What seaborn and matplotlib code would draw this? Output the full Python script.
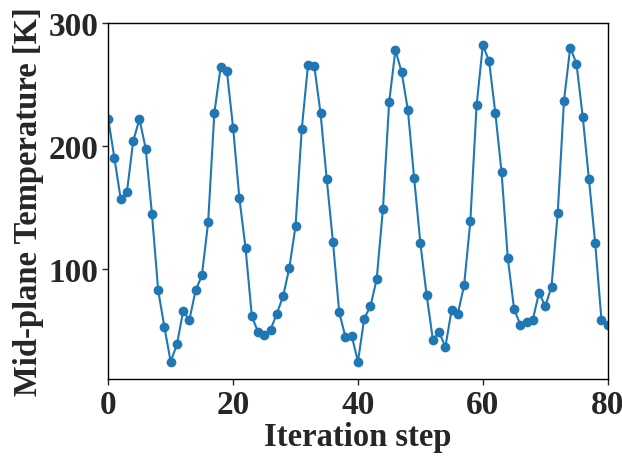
import pandas as pd
import matplotlib
matplotlib.use("Agg")
import matplotlib.pyplot as plt
import seaborn as sns

steps = list(range(81))
temperature = [222, 190, 157, 163, 204, 222, 198, 145, 83, 53,
               25, 39, 66, 59, 83, 95, 138, 227, 264, 261,
               215, 158, 117, 62, 49, 47, 51, 64, 78, 101,
               135, 214, 266, 265, 227, 173, 122, 65, 45, 46,
               25, 60, 70, 92, 149, 236, 278, 260, 229, 174,
               121, 79, 43, 49, 37, 67, 64, 87, 139, 233,
               282, 269, 227, 179, 109, 68, 55, 57, 59, 81,
               70, 86, 146, 237, 280, 267, 224, 173, 121, 59,
               55]

df = pd.DataFrame({'step': steps, 'temp': temperature})

sns.set_style('ticks')
plt.rcParams['font.family'] = ['Liberation Serif', 'DejaVu Serif']
plt.rcParams['font.weight'] = 'bold'

fig = plt.figure(figsize=(6.22, 4.60), dpi=100)
ax = fig.add_axes([0.174, 0.174, 0.803, 0.774])
sns.lineplot(data=df, x='step', y='temp', marker='o', markersize=7,
             markeredgewidth=0, color='#1f77b4', linewidth=1.5, ax=ax)
ax.set_xlim(0, 80)
ax.set_ylim(11, 300)
ax.set_xticks([0, 20, 40, 60, 80])
ax.set_yticks([100, 200, 300])
ax.tick_params(labelsize=24, direction='out', length=4, width=1, pad=3)
for lab in ax.get_xticklabels() + ax.get_yticklabels():
    lab.set_fontweight('bold')
ax.set_xlabel("Iteration step", fontsize=23.5, fontweight='bold', labelpad=1)
ax.set_ylabel("Mid-plane Temperature [K]", fontsize=23.5, fontweight='bold', labelpad=3)
for s in ax.spines.values():
    s.set_linewidth(1)
    s.set_color('black')

fig.savefig('out.png', dpi=100)
